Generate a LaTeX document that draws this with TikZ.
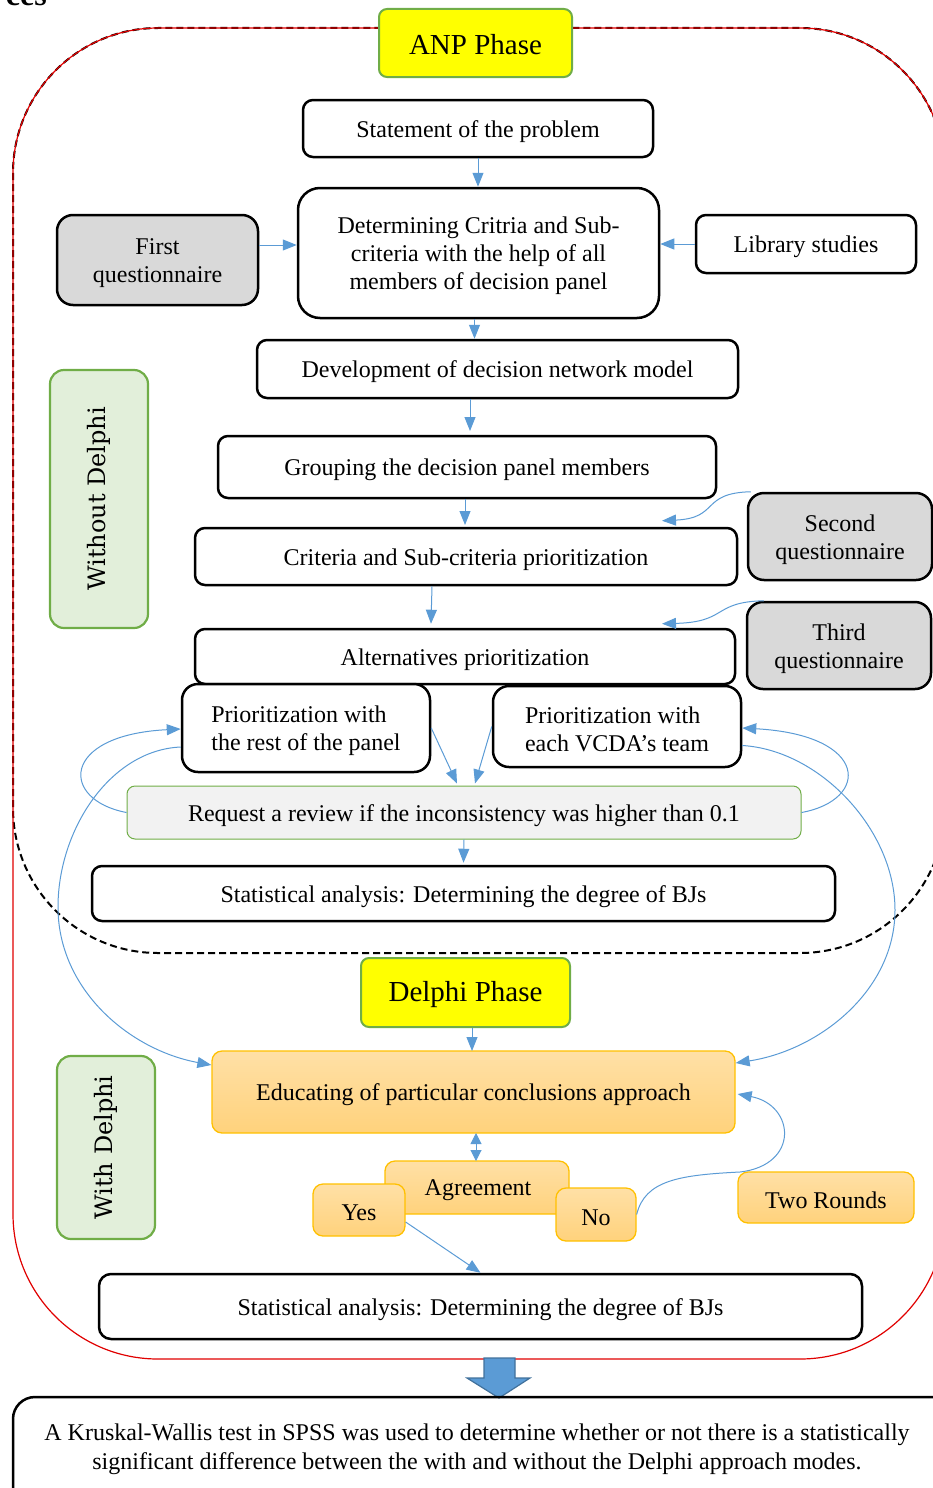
\documentclass[tikz,border=0pt]{standalone}
\usepackage{fontspec}
\setmainfont{Liberation Serif}
\newfontfamily\sidefont{DejaVu Serif}
\usetikzlibrary{arrows.meta}
\definecolor{ablue}{HTML}{5B9BD5}
\definecolor{ablueD}{HTML}{41719C}
\definecolor{agreen}{HTML}{70AD47}
\definecolor{lgreen}{HTML}{E2EFDA}
\definecolor{boxgray}{HTML}{D9D9D9}
\definecolor{reqgray}{HTML}{F2F2F2}
\definecolor{aorange}{HTML}{FFC000}
\definecolor{orangeA}{HTML}{FFE0A6}
\definecolor{orangeB}{HTML}{FFD27C}
\definecolor{ayellow}{HTML}{FFFF00}
\definecolor{ared}{HTML}{E00000}
\begin{document}
\begin{tikzpicture}[x=1pt,y=-1pt,
  basetext/.style={font=\fontsize{24}{28}\selectfont, align=center, inner sep=2pt},
  T/.style={label={[basetext, yshift=-3pt]center:{#1}}},
  TL/.style={label={[basetext, align=left, yshift=-3pt]center:{#1}}},
  TY/.style={label={[basetext, font=\fontsize{29}{34}\selectfont, yshift=-2pt]center:{#1}}},
  box/.style={draw=black, line width=2.5pt, rounded corners=10pt, fill=white, inner sep=0pt},
  gbox/.style={box, fill=boxgray, rounded corners=16pt},
  ybox/.style={draw=agreen, line width=2pt, fill=ayellow, rounded corners=8pt, inner sep=0pt},
  obox/.style={draw=aorange, line width=1.3pt, top color=orangeA, bottom color=orangeB, rounded corners=10pt, inner sep=0pt},
  side/.style={draw=agreen, line width=2.2pt, fill=lgreen, rounded corners=14pt, rotate=90, inner sep=0pt, font=\sidefont\fontsize{24}{28}\selectfont},
  conn/.style={draw=ablue, line width=1pt, -{Triangle[length=14pt,width=11pt]}},
  dconn/.style={draw=ablue, line width=1pt, {Triangle[length=11pt,width=11pt]}-{Triangle[length=11pt,width=11pt]}},
]
\useasboundingbox (0,0) rectangle (933,1488);

% cut-off heading fragment
\node[font=\bfseries\fontsize{32}{36}\selectfont, anchor=base east, inner sep=0pt] (frag) at (47,6) {ces};

% outer frames
\draw[dashed, line width=2pt, dash pattern=on 7pt off 4pt, rounded corners=145pt] (13,28) rectangle (945,953);
\draw[ared, line width=1.2pt, rounded corners=145pt] (13,28) rectangle (945,1359);

% ANP phase
\node[ybox, TY={ANP Phase}, minimum width=193pt, minimum height=68pt] (anp) at (475.5,43) {};
\node[box, T={Statement of the problem}, minimum width=350pt, minimum height=57pt] (stmt) at (478,128.5) {};
\node[box, T={Determining Critria and Sub-\\criteria with the help of all\\members of decision panel}, minimum width=361pt, minimum height=130pt, rounded corners=22pt] (det) at (478.5,253) {};
\node[gbox, T={First\\questionnaire}, minimum width=201pt, minimum height=90pt] (first) at (157.5,260) {};
\node[box, T={Library studies}, minimum width=220pt, minimum height=58pt] (lib) at (806,244) {};
\node[box, T={Development of decision network model}, minimum width=481pt, minimum height=58pt] (dev) at (497.5,369) {};
\node[box, T={Grouping the decision panel members}, minimum width=498pt, minimum height=62pt] (grp) at (467,467) {};
\node[box, T={Criteria and Sub-criteria prioritization}, minimum width=542pt, minimum height=57pt] (crit) at (466,556.5) {};
\node[gbox, T={Second\\questionnaire}, minimum width=184pt, minimum height=87pt] (second) at (840,536.5) {};
\node[box, T={Alternatives prioritization}, minimum width=540pt, minimum height=55pt] (alt) at (465,656.5) {};
\node[gbox, T={Third\\questionnaire}, minimum width=184pt, minimum height=87pt] (third) at (839,645.5) {};
\node[box, TL={Prioritization with\\the rest of the panel}, minimum width=248pt, minimum height=88pt, rounded corners=16pt] (rest) at (306,728) {};
\node[box, TL={Prioritization with\\each VCDA’s team}, minimum width=248pt, minimum height=81pt, rounded corners=16pt] (vcda) at (617,726.5) {};
\node[draw=agreen, line width=1pt, fill=reqgray, rounded corners=8pt, inner sep=0pt, T={Request a review if the inconsistency was higher than 0.1}, minimum width=674pt, minimum height=53pt] (req) at (464,812.5) {};
\node[box, T={Statistical analysis: Determining the degree of BJs}, minimum width=743pt, minimum height=55pt] (stat1) at (463.5,893.5) {};
\node[side, minimum width=258pt, minimum height=98pt] (without) at (99,499) {Without Delphi};

% Delphi phase
\node[ybox, TY={Delphi Phase}, minimum width=209pt, minimum height=69pt] (delphi) at (465.5,992.5) {};
\node[obox, T={Educating of particular conclusions approach}, minimum width=523pt, minimum height=82pt] (educ) at (473.5,1092) {};
\node[side, minimum width=183pt, minimum height=98pt] (with) at (106,1147.5) {With Delphi};
\node[obox, minimum width=184pt, minimum height=53pt] (agree) at (477,1187.5) {};
\node[basetext] (agreetxt) at (478,1190) {Agreement};
\node[obox, T={Yes}, minimum width=92pt, minimum height=52pt] (yes) at (359,1210) {};
\node[obox, T={No}, minimum width=80pt, minimum height=53pt] (no) at (596,1214.5) {};
\node[obox, T={Two Rounds}, minimum width=176pt, minimum height=51pt] (two) at (826,1197.5) {};
\node[box, T={Statistical analysis: Determining the degree of BJs}, minimum width=763pt, minimum height=65pt, rounded corners=12pt] (stat2) at (480.5,1306.5) {};

% big arrow
\draw[fill=ablue, draw=ablueD, line width=1.2pt] (484,1358) -- (515,1358) -- (515,1378) -- (530,1378) -- (499,1398) -- (467,1378) -- (484,1378) -- cycle;

% Kruskal box
\draw[line width=2.5pt, rounded corners=22pt] (13,1397) rectangle (955,1510);
\node[basetext, font=\fontsize{24}{29}\selectfont] (kw) at (477,1449) {A Kruskal-Wallis test in SPSS was used to determine whether or not there is a statistically\\significant difference between the with and without the Delphi approach modes.};

% connectors
\draw[conn] (stmt.south) -- (stmt.south |- det.north);
\draw[conn] ([yshift=15pt]first.east) -- ([yshift=15pt]first.east -| det.west);
\draw[conn] (lib.west) -- (lib.west -| det.east);
\draw[conn] ([xshift=-4pt]det.south) -- ([xshift=-4pt]det.south |- dev.north);
\draw[conn] (dev.south -| 470,0) -- (470,431);
\draw[conn] (grp.south -| 465,0) -- (465,525);
\draw[conn] ([xshift=-34pt]crit.south) -- ([xshift=-34pt,yshift=4pt]alt.north);
\draw[conn] ([xshift=4pt]second.north west) .. controls (700,493) and (720,518) .. ([xshift=196pt,yshift=6pt]crit.north);
\draw[conn] ([xshift=18pt]third.north west) .. controls (712,602) and (728,622) .. ([xshift=197pt,yshift=4pt]alt.north);
\draw[conn] (rest.east) -- ([xshift=-7pt,yshift=2pt]req.north);
\draw[conn] (vcda.west) -- ([xshift=11pt,yshift=2pt]req.north);
\draw[conn] (req.south) -- ([yshift=2pt]stat1.north);
\draw[conn] (req.west) .. controls (60,800) and (60,735) .. ([yshift=-1pt]rest.west);
\draw[conn] (req.east) .. controls (870,800) and (870,735) .. ([yshift=-1.5pt]vcda.east);
\draw[conn] ([yshift=-19pt]rest.west) .. controls (110,750) and (58,830) .. (58,907) .. controls (58,990) and (130,1050) .. ([yshift=27pt]educ.west);
\draw[conn] ([yshift=-19pt]vcda.east) .. controls (820,750) and (895,830) .. (895,910) .. controls (895,990) and (820,1050) .. ([yshift=29pt]educ.east);
\draw[conn] (delphi.south -| 472,0) -- (472,1051);
\draw[dconn] (476,1133) -- (476,1161);
\draw[conn] ([yshift=-12pt]yes.east) -- (stat2.north);
\draw[conn] (no.east) .. controls (645,1180) and (680,1175) .. (740,1172) .. controls (800,1165) and (795,1105) .. ([xshift=2pt,yshift=-2pt]educ.east);
\end{tikzpicture}
\end{document}
